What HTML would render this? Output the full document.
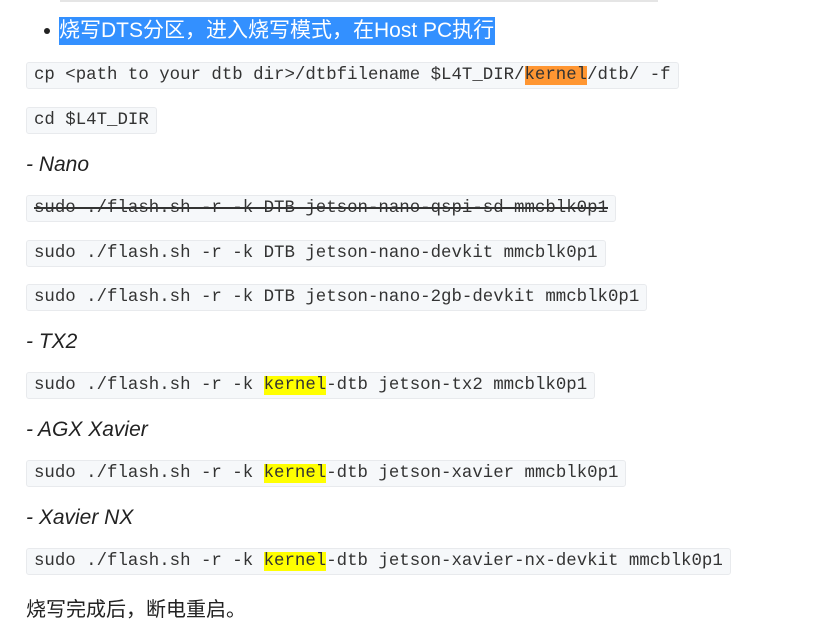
<!DOCTYPE html>
<html><head><meta charset="utf-8"><style>
body{margin:0;width:840px;height:629px;background:#fff;position:relative;overflow:hidden;font-family:"Liberation Sans","Noto Sans CJK SC",sans-serif;color:#222}
.c{position:absolute;left:26px;height:25px;line-height:25px;padding:0 7px 0 7px;background:#f6f8fa;border:1px solid #e8eaed;border-radius:3px;font-family:"Liberation Mono","Noto Sans CJK SC",monospace;font-size:17.4px;color:#333;white-space:pre}
.l{position:absolute;left:26px;font-style:italic;font-size:21px;color:#222}
.y{background:#ffff00}
.o{background:#ff9632}
</style></head><body>
<div style="position:absolute;left:60px;top:0;width:598px;height:2px;background:#e5e5e5"></div>
<div style="position:absolute;left:44px;top:28px;width:6px;height:6px;border-radius:50%;background:#222"></div>
<div style="position:absolute;left:59px;top:17px;width:436px;height:28px;background:#3390ff"></div>
<div style="position:absolute;left:59px;top:17px;height:28px;line-height:28px;font-size:21px;color:#fff;white-space:nowrap">烧写DTS分区，进入烧写模式，在Host PC执行</div>
<div class="c" style="top:62px">cp &lt;path to your dtb dir&gt;/dtbfilename $L4T_DIR/<span class="o">kernel</span>/dtb/ -f</div>
<div class="c" style="top:107px">cd $L4T_DIR</div>
<div class="l" style="top:153px">- Nano</div>
<div class="c" style="top:195px;text-decoration:line-through;text-decoration-thickness:2px">sudo ./flash.sh -r -k DTB jetson-nano-qspi-sd mmcblk0p1</div>
<div class="c" style="top:240px">sudo ./flash.sh -r -k DTB jetson-nano-devkit mmcblk0p1</div>
<div class="c" style="top:284px">sudo ./flash.sh -r -k DTB jetson-nano-2gb-devkit mmcblk0p1</div>
<div class="l" style="top:330px">- TX2</div>
<div class="c" style="top:372px">sudo ./flash.sh -r -k <span class="y">kernel</span>-dtb jetson-tx2 mmcblk0p1</div>
<div class="l" style="top:418px">- AGX Xavier</div>
<div class="c" style="top:460px">sudo ./flash.sh -r -k <span class="y">kernel</span>-dtb jetson-xavier mmcblk0p1</div>
<div class="l" style="top:506px">- Xavier NX</div>
<div class="c" style="top:548px">sudo ./flash.sh -r -k <span class="y">kernel</span>-dtb jetson-xavier-nx-devkit mmcblk0p1</div>
<div style="position:absolute;left:26px;top:593px;font-size:20px;color:#222">烧写完成后，断电重启。</div>
</body></html>
